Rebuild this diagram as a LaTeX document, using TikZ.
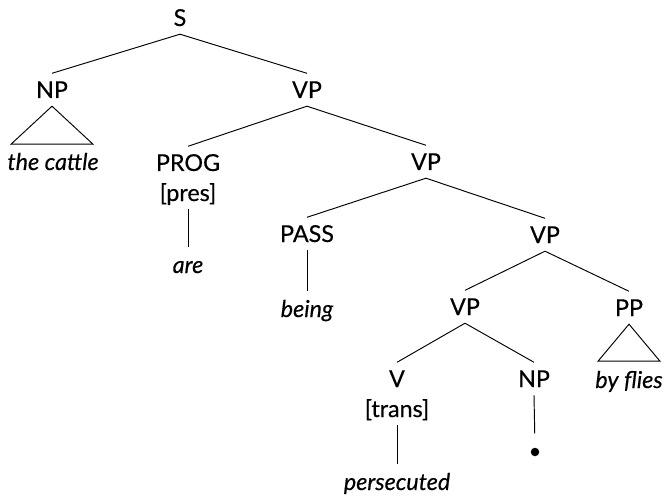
\documentclass[tikz,border=0pt]{standalone}
\usepackage{fontspec}
\setmainfont{Lato}[FakeBold=0.4]
\begin{document}
\begin{tikzpicture}[x=1pt,y=-1pt,
  every node/.style={inner xsep=0pt, inner ysep=8pt, anchor=base},
  cat/.style={font=\fontsize{23.3}{27}\selectfont, text height=16.5pt, text depth=0pt},
  word/.style={font=\fontsize{23.3}{27}\selectfont\itshape, text height=18pt, text depth=0pt},
  edge/.style={line width=0.95pt, line join=miter},
  tracedot/.style={circle, fill, inner sep=0pt, minimum size=8.5pt, anchor=center}]
\useasboundingbox (0,0) rectangle (666,497);
% categories
\node[cat] (S) at (180,26) {S};
\node[cat] (NP) at (52,98) {NP};
\node[cat] (VP1) at (307,98) {VP};
\node[word] (cattle) at (53,170) {the cattle};
\node[cat] (PROG) at (188,171) {PROG};
\node[cat] (pres) at (188,201) {[pres]};
\node[word] (are) at (188,273) {are};
\node[cat] (VP2) at (426,170) {VP};
\node[cat] (PASS) at (307,242) {PASS};
\node[word] (being) at (307,317) {being};
\node[cat] (VP3) at (545,243) {VP};
\node[cat] (VP4) at (465,315) {VP};
\node[cat] (PP) at (629,316) {PP};
\node[word] (byflies) at (629,388) {by flies};
\node[cat] (V) at (397,387) {V};
\node[cat] (trans) at (397,417) {[trans]};
\node[word] (persecuted) at (397,490) {persecuted};
\node[cat] (NP2) at (534,387) {NP};
\node[tracedot] (trace) at (535,452) {};
% branches
\draw[edge] (S.south) -- (NP.north);
\draw[edge] (S.south) -- (VP1.north);
\draw[edge] (VP1.south) -- (PROG.north);
\draw[edge] (VP1.south) -- (VP2.north);
\draw[edge] (VP2.south) -- (PASS.north);
\draw[edge] (VP2.south) -- (VP3.north);
\draw[edge] (VP3.south) -- (VP4.north);
\draw[edge] (VP3.south) -- (PP.north);
\draw[edge] (VP4.south) -- (V.north);
\draw[edge] (VP4.south) -- (NP2.north);
\draw[edge] (pres.south) -- (are.north);
\draw[edge] (PASS.south) -- (being.north);
\draw[edge] (trans.south) -- (persecuted.north);
\draw[edge, shorten >=14pt] (NP2.south) -- (trace.north);
% triangles
\draw[edge] (NP.south) -- ++(-41,38) -- ++(82,0) -- cycle;
\draw[edge] (PP.south) -- ++(-31,37) -- ++(62,0) -- cycle;
\end{tikzpicture}
\end{document}
